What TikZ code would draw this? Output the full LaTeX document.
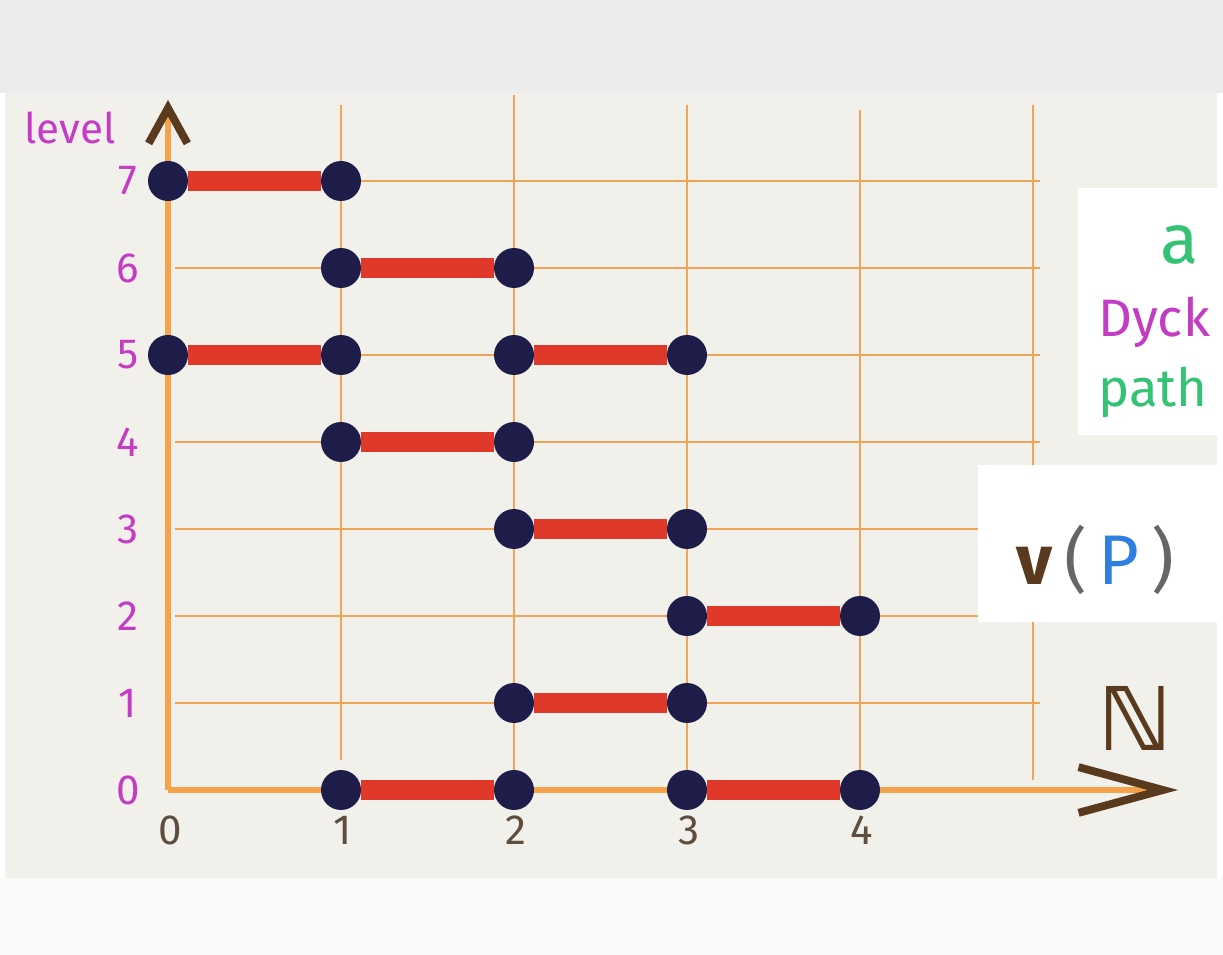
\documentclass[tikz,border=0pt]{standalone}
\usepackage{fontspec}
\setmainfont{Fira Sans}
\newfontfamily\symbfont{DejaVu Sans}
\usetikzlibrary{arrows.meta,positioning,calc}

\definecolor{paper}{HTML}{F1F0EB}
\definecolor{gridorange}{HTML}{F0A458}
\definecolor{axisorange}{HTML}{F5A24A}
\definecolor{dotnavy}{HTML}{1E1C48}
\definecolor{barred}{HTML}{E0392A}
\definecolor{levmag}{HTML}{C43CC4}
\definecolor{ink}{HTML}{5A3A1E}
\definecolor{numink}{HTML}{5E4E3E}
\definecolor{penblue}{HTML}{2F7FE0}
\definecolor{pengreen}{HTML}{34C274}

\begin{document}
\begin{tikzpicture}[x=0.02cm, y=-0.02cm,
    dot/.style={circle, fill=dotnavy, minimum size=0.8cm, inner sep=0pt},
    bar/.style={line width=11pt, draw=barred},
    gridline/.style={draw=gridorange, line width=1.3pt},
    axis/.style={draw=axisorange, line width=3.5pt},
    lvl/.style={text=levmag, font=\fontsize{24}{26}\selectfont},
    num/.style={text=numink, font=\fontsize{24}{26}\selectfont},
    note/.style={font=\fontsize{30}{33}\selectfont}
  ]
    % paper and background
    \useasboundingbox (0,0) rectangle (1223,955);
    \fill[gray!15] (0,0) rectangle (1223,93);
    \fill[gray!4] (0,878) rectangle (1223,955);
    \fill[paper] (5,93) rectangle (1217,878);

    % grid
    \foreach \r in {1,...,7}
      \draw[gridline] (175,790-\r*87) -- (1040,790-\r*87);
    \foreach \c/\top/\bot in {1/105/760, 2/95/780, 3/105/775, 4/110/775, 5/105/780}
      \draw[gridline] (\c*173+168,\top) -- (\c*173+168,\bot);

    % axes
    \coordinate (o) at (168,790);
    \coordinate (ytip) at (168,100);
    \coordinate (xtip) at (1178,790);
    \draw[axis, -{Straight Barb[color=ink, line width=4.5pt, length=20pt, width=22pt]}] (o) -- (ytip);
    \draw[axis, -{Straight Barb[color=ink, line width=4.5pt, length=48pt, width=26pt]}] (o) -- (xtip);

    % points of the path
    \foreach \c/\r in {0/7,1/7,1/6,2/6,0/5,1/5,2/5,3/5,1/4,2/4,2/3,3/3,3/2,4/2,2/1,3/1,1/0,2/0,3/0,4/0}
      \node[dot] (p\c\r) at (\c*173+168, 790-\r*87) {};

    % steps
    \foreach \a/\b in {p07/p17, p16/p26, p05/p15, p25/p35, p14/p24, p23/p33, p32/p42, p21/p31, p10/p20, p30/p40}
      \draw[bar] (\a) -- (\b);

    % labels
    \foreach \r in {0,...,7}
      \node[lvl] (l\r) at (128,790-\r*87) {\r};
    \foreach \c in {0,...,4}
      \node[num] (n\c) at (\c*173+170,830) {\c};
    \node[lvl] (level) at (70,128) {level};
    \node[text=ink, font=\symbfont\bfseries\fontsize{50}{54}\selectfont] (nat) at (1135,718) {ℕ};

    % pasted notes
    \fill[white] (1078,188) rectangle (1223,435);
    \node[note, font=\fontsize{40}{42}\selectfont, text=pengreen] (a) at (1180,245) {a};
    \node[note, text=levmag, anchor=west] (dyck) at (1092,322) {Dyck};
    \node[note, text=pengreen, anchor=west] (path) at (1092,392) {path};
    \fill[white] (978,465) rectangle (1223,622);
    \node[font=\fontsize{40}{44}\selectfont] (vp) at (1095,560)
      {\textcolor{ink}{\textbf{v}}\,\textcolor{gray!80!black}{(}\,\textcolor{penblue}{P}\,\textcolor{gray!80!black}{)}};
\end{tikzpicture}
\end{document}
